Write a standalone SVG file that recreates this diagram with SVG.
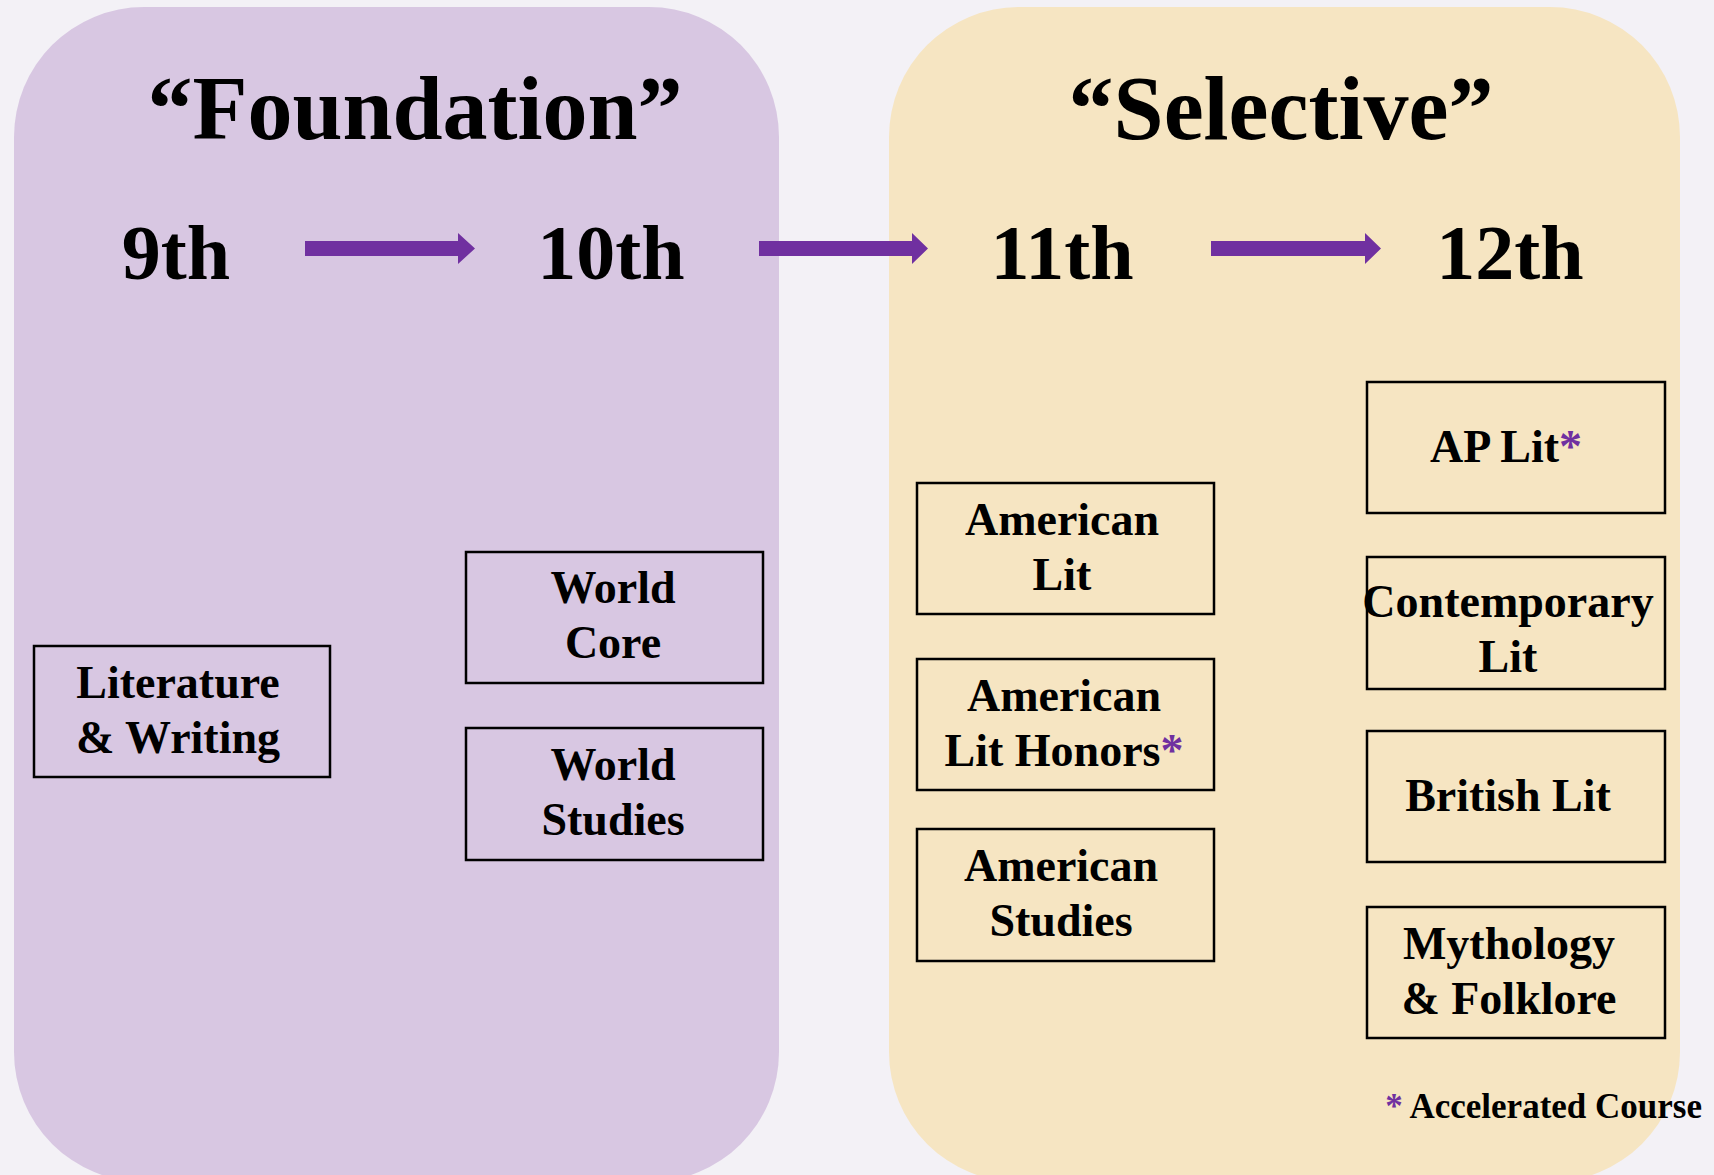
<svg xmlns="http://www.w3.org/2000/svg" width="1714" height="1175" viewBox="0 0 1714 1175">
<style>
text{font-family:"Liberation Serif","Times New Roman",serif;font-weight:bold;fill:#000;text-anchor:middle}
.title{font-size:90px}
.grade{font-size:78px}
.box{fill:none;stroke:#000;stroke-width:2.5}
.lbl{font-size:46px}
.star{fill:#7030A0}
.arrow{fill:#7030A0}
</style>
<rect width="1714" height="1175" fill="#F3F1F6"/>
<g id="panel-foundation">
<rect x="14" y="7" width="765" height="1175" rx="130" ry="130" fill="#D8C7E2"/>
<text class="title" x="415" y="139">“Foundation”</text>
</g>
<g id="panel-selective">
<rect x="889" y="7" width="791" height="1175" rx="130" ry="130" fill="#F6E5C2"/>
<text class="title" x="1281" y="139">“Selective”</text>
</g>
<g id="grade-9"><text class="grade" x="176" y="279">9th</text></g>
<g id="grade-10"><text class="grade" x="611" y="279">10th</text></g>
<g id="grade-11"><text class="grade" x="1062" y="279">11th</text></g>
<g id="grade-12"><text class="grade" x="1510" y="279">12th</text></g>
<g id="connectors">
<polygon class="arrow" points="305,241 458,241 458,233 475,248.5 458,264 458,256 305,256"/>
<polygon class="arrow" points="759,241 912,241 912,233 928,248.5 912,264 912,256 759,256"/>
<polygon class="arrow" points="1211,241 1365,241 1365,233 1381,248.5 1365,264 1365,256 1211,256"/>
</g>
<g id="lit-writing">
<rect class="box" x="34" y="646" width="296" height="131"/>
<text class="lbl" x="178" y="698">Literature</text>
<text class="lbl" x="178" y="753">&amp; Writing</text>
</g>
<g id="world-core">
<rect class="box" x="466" y="552" width="297" height="131"/>
<text class="lbl" x="613" y="603">World</text>
<text class="lbl" x="613" y="658">Core</text>
</g>
<g id="world-studies">
<rect class="box" x="466" y="728" width="297" height="132"/>
<text class="lbl" x="613" y="780">World</text>
<text class="lbl" x="613" y="835">Studies</text>
</g>
<g id="american-lit">
<rect class="box" x="917" y="483" width="297" height="131"/>
<text class="lbl" x="1062" y="535">American</text>
<text class="lbl" x="1062" y="590">Lit</text>
</g>
<g id="american-lit-honors">
<rect class="box" x="917" y="659" width="297" height="131"/>
<text class="lbl" x="1064" y="711">American</text>
<text class="lbl" x="1064" y="766">Lit Honors<tspan class="star">*</tspan></text>
</g>
<g id="american-studies">
<rect class="box" x="917" y="829" width="297" height="132"/>
<text class="lbl" x="1061" y="881">American</text>
<text class="lbl" x="1061" y="936">Studies</text>
</g>
<g id="ap-lit">
<rect class="box" x="1367" y="382" width="298" height="131"/>
<text class="lbl" x="1506" y="462">AP Lit<tspan class="star">*</tspan></text>
</g>
<g id="contemporary-lit">
<rect class="box" x="1367" y="557" width="298" height="132"/>
<text class="lbl" x="1508" y="617">Contemporary</text>
<text class="lbl" x="1508" y="672">Lit</text>
</g>
<g id="british-lit">
<rect class="box" x="1367" y="731" width="298" height="131"/>
<text class="lbl" x="1508" y="811">British Lit</text>
</g>
<g id="mythology">
<rect class="box" x="1367" y="907" width="298" height="131"/>
<text class="lbl" x="1509" y="959">Mythology</text>
<text class="lbl" x="1509" y="1014">&amp; Folklore</text>
</g>
<g id="legend">
<text x="1702" y="1118" style="font-size:35px;text-anchor:end"><tspan class="star">*</tspan> Accelerated Course</text>
</g>
</svg>
